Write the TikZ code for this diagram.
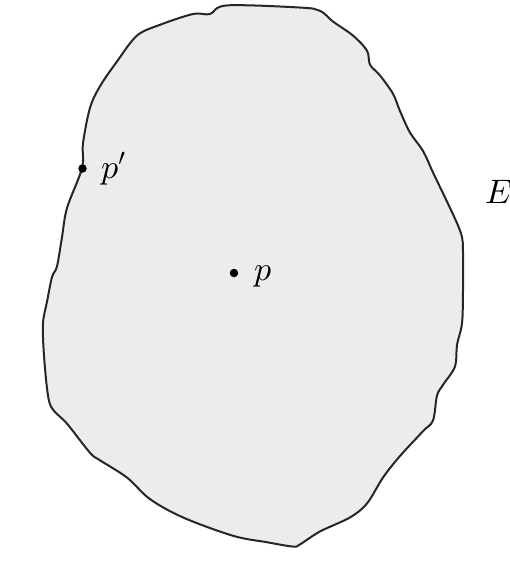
\documentclass[tikz,border=0pt]{standalone}
\DeclareFontFamily{OML}{cmm}{\skewchar\font'177}
\DeclareFontShape{OML}{cmm}{m}{it}{<->cmmi10}{}
\DeclareFontFamily{OMS}{cmsy}{\skewchar\font'60}
\DeclareFontShape{OMS}{cmsy}{m}{n}{<->cmsy10}{}
\begin{document}
\begin{tikzpicture}[x=1pt,y=-1pt,
  blob/.style={draw=black!85,line width=2pt,fill=black!7.5,line join=round},
  dot/.style={circle,fill=black,inner sep=0pt,minimum size=8.5pt},
  lbl/.style={font=\fontsize{34}{40}\selectfont,inner sep=0pt}]
\useasboundingbox (0,0) rectangle (510,566);
\begin{scope}[yscale=1.078]
\draw[blob] plot[smooth cycle,tension=0.55] coordinates {
 (210,13) (227,5) (300,7) (320,10) (333,20) (353,33) (367,47) (370,60)
 (380,70) (393,87) (400,103) (410,123) (423,140) (433,160) (447,187)
 (457,207) (462,220) (463,233) (463,270) (462,300) (457,320) (455,340)
 (443,357) (437,367) (433,390) (423,400) (400,423) (383,443) (367,467)
 (350,480) (320,493) (300,505) (293,507) (267,503) (233,497) (183,480)
 (150,463) (127,443) (100,427) (90,420) (67,393) (53,380) (48,367)
 (44,330) (43,300) (47,280) (52,257) (57,247) (62,220) (67,193)
 (82,156) (83,133) (90,100) (100,80) (117,57) (137,33) (160,23)
 (193,13)};
\end{scope}
\node[dot] (pp) at (82.5,168.5) {};
\node[dot] (p) at (234,273) {};
\node[lbl,anchor=base west] (lpp) at (101,178) {$p'$};
\node[lbl,anchor=base west] (lp) at (254,280) {$p$};
\node[lbl,anchor=base west] (lE) at (485,203) {$E$};
\end{tikzpicture}
\end{document}
